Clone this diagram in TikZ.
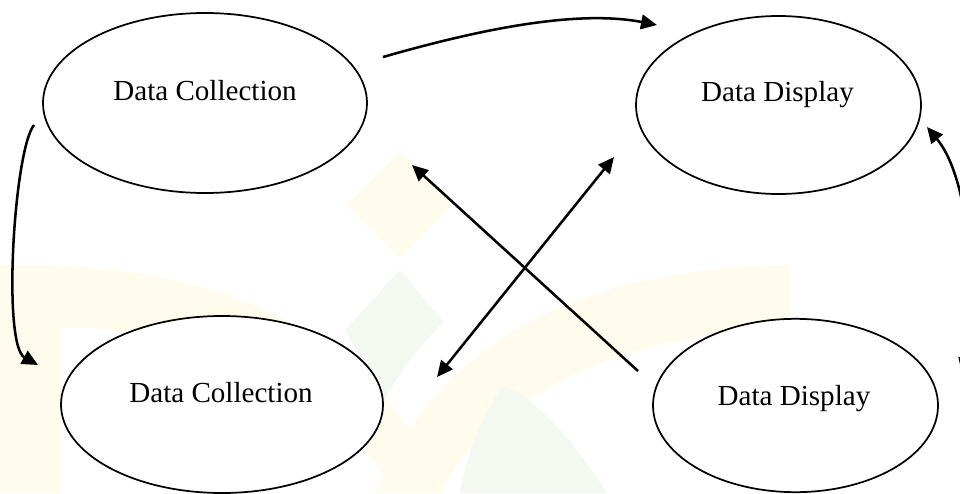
\documentclass[tikz,border=0pt]{standalone}
\usepackage{fontspec}
\setmainfont{Liberation Serif}
\usetikzlibrary{shapes.geometric,arrows.meta}
\definecolor{wmyellow}{RGB}{255,252,238}
\definecolor{wmgreen}{RGB}{243,248,241}
\tikzset{every picture/.style={line width=0.75pt}}
\tikzset{
  stage/.style={draw, ellipse, fill=white, line width=1.3pt, inner sep=0pt},
  stagetext/.style={anchor=base, inner sep=0pt, font=\fontsize{21.8}{26}\selectfont},
  flow/.style={line width=1.9pt, -{Triangle[length=12pt,width=11pt]}},
  flowboth/.style={line width=1.9pt, {Triangle[length=12pt,width=11pt]}-{Triangle[length=12pt,width=11pt]}},
}

\begin{document}
\begin{tikzpicture}[x=0.75pt,y=0.75pt,yscale=-1,xscale=1]
\useasboundingbox (0,0) rectangle (960,493);
\clip (0,0) rectangle (960,493);
% watermark
\fill[wmyellow] (0,265) .. controls (170,262) and (320,300) .. (410,430) -- (440,493) -- (395,493) .. controls (330,380) and (200,326) .. (61,328) -- (61,493) -- (0,493) -- cycle;
\fill[wmyellow] (375,493) .. controls (440,340) and (580,268) .. (790,265) -- (790,330) .. controls (620,330) and (490,400) .. (440,493) -- cycle;
\fill[wmyellow] (400,152) -- (452,205) -- (400,258) -- (346,205) -- cycle;
\fill[wmgreen] (400,270) -- (444,322) .. controls (420,345) and (400,370) .. (385,400) -- (345,330) -- cycle;
\fill[wmgreen] (503,385) .. controls (480,420) and (465,460) .. (460,493) -- (607,493) .. controls (580,450) and (540,400) .. (503,385) -- cycle;
% stages
\node[stage, minimum width=243pt, minimum height=135pt] (col1) at (205,103) {};
\node[stage, minimum width=213.75pt, minimum height=133.5pt] (disp1) at (778.5,105) {};
\node[stage, minimum width=241.5pt, minimum height=132.75pt] (col2) at (222,404.5) {};
\node[stage, minimum width=213.75pt, minimum height=130pt] (disp2) at (795.5,405.5) {};
\node[stagetext] (col1txt) at (205,100) {Data Collection};
\node[stagetext] (disp1txt) at (777.5,101) {Data Display};
\node[stagetext] (col2txt) at (221,402) {Data Collection};
\node[stagetext] (disp2txt) at (794,405) {Data Display};
% arrows
\coordinate (a1) at (383,57);
\coordinate (a2) at (657,25);
\coordinate (b1) at (34,125);
\coordinate (b2) at (38,365);
\coordinate (c1) at (638,371);
\coordinate (c2) at (412,165);
\coordinate (d1) at (437,377);
\coordinate (d2) at (614,157);
\coordinate (e1) at (927,127);
\coordinate (e2) at (962,374);
\draw[flow] (a1) .. controls (460,35) and (570,8) .. (a2);
\draw[flow] (b1) .. controls (14,150) and (2,345) .. (b2);
\draw[flow] (c1) -- (c2);
\draw[flowboth] (d1) -- (d2);
\draw[flowboth] (e2) .. controls (975,320) and (975,185) .. (e1);
\end{tikzpicture}
\end{document}
